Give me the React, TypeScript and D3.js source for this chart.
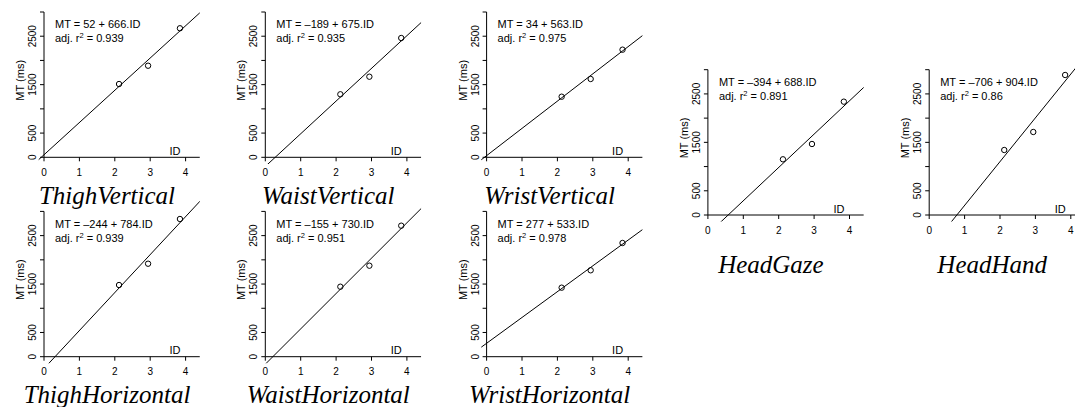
import React from "react";
import * as d3 from "d3";

// ID values of the three target conditions (same for every panel)
const ids = [2.12, 2.94, 3.84];

// movement time (ms) per condition
const thighVertical = [1513, 1891, 2664];
const waistVertical = [1301, 1664, 2463];
const wristVertical = [1251, 1617, 2222];
const thighHorizontal = [1480, 1920, 2843];
const waistHorizontal = [1445, 1879, 2705];
const wristHorizontal = [1425, 1784, 2348];
const headGaze = [1150, 1466, 2340];
const headHand = [1342, 1714, 2891];

const panelNames = [
  "ThighVertical", "WaistVertical", "WristVertical",
  "ThighHorizontal", "WaistHorizontal", "WristHorizontal",
  "HeadGaze", "HeadHand",
];
const panelValues = [
  thighVertical, waistVertical, wristVertical,
  thighHorizontal, waistHorizontal, wristHorizontal,
  headGaze, headHand,
];
const intercepts = [52, -189, 34, -244, -155, 277, -394, -706];
const slopes = [666, 675, 563, 784, 730, 533, 688, 904];
const r2Labels = ["0.939", "0.935", "0.975", "0.939", "0.951", "0.978", "0.891", "0.86"];

const xTicks = [0, 1, 2, 3, 4];
const yTicks = [0, 500, 1000, 1500, 2000, 2500, 3000];
const yTickLabels = [0, 500, 1500, 2500];

// layout: [column, row y of the zero line, title offset below axis]
const layout: [number, number, number][] = [
  [0, 157.3, 46.5], [1, 157.3, 46.5], [2, 157.3, 46.5],
  [0, 356.7, 46.5], [1, 356.7, 46.5], [2, 356.7, 46.5],
  [3, 215, 58], [4, 215, 58],
];

const sans = "'Liberation Sans', Arial, Helvetica, sans-serif";
const serif = "'Liberation Serif', 'Times New Roman', serif";

const Panel = ({ i }: { i: number }) => {
  const [col, y0, titleOff] = layout[i];
  const ax = 44 + col * 221.3;
  const pxPerId = 35.4;
  const x = d3.scaleLinear().domain([0, 4.4]).range([ax, ax + 4.4 * pxPerId]);
  const y = d3.scaleLinear().domain([0, 3000]).range([y0, y0 - 145.3]);
  const a = intercepts[i];
  const b = slopes[i];
  const fit = d3.line<number>().x(d => x(d)).y(d => y(a + b * d));
  const clipId = `clip-${i}`;
  const minus = (v: number) => (v < 0 ? `\u2013${Math.abs(v)}` : `${v}`);

  return (
    <g>
      <defs>
        <clipPath id={clipId}>
          <rect x={x(-0.15)} y={y(3500)} width={x(4.4) - x(-0.15)} height={y(-136) - y(3500)} />
        </clipPath>
      </defs>

      {/* regression line */}
      <path d={fit([-0.5, 4.6]) || ""} fill="none" stroke="black" strokeWidth={1} clipPath={`url(#${clipId})`} />

      {/* points */}
      {panelValues[i].map((v, k) => (
        <circle key={k} cx={x(ids[k])} cy={y(v)} r={2.7} fill="none" stroke="black" strokeWidth={1} />
      ))}

      {/* y axis */}
      <line x1={ax} x2={ax} y1={y(0)} y2={y(3000)} stroke="black" />
      {yTicks.map(t => (
        <line key={t} x1={ax - 4} x2={ax} y1={y(t)} y2={y(t)} stroke="black" />
      ))}
      {yTickLabels.map(t => (
        <text key={t} transform={`translate(${ax - 8},${y(t)}) rotate(-90)`} textAnchor="middle"
          style={{ fontSize: "10px", fontFamily: sans }}>{t}</text>
      ))}
      <text transform={`translate(${ax - 20},${y0 - 77}) rotate(-90)`} textAnchor="middle"
        style={{ fontSize: "11px", fontFamily: sans }}>MT (ms)</text>

      {/* x axis */}
      <line x1={x(0)} x2={x(4.4)} y1={y0} y2={y0} stroke="black" />
      {xTicks.map(t => (
        <g key={t}>
          <line x1={x(t)} x2={x(t)} y1={y0} y2={y0 + 4} stroke="black" />
          <text x={x(t)} y={y0 + 18.5} textAnchor="middle" style={{ fontSize: "10px", fontFamily: sans }}>{t}</text>
        </g>
      ))}
      <text x={x(3.7)} y={y0 - 2.5} textAnchor="middle" style={{ fontSize: "11px", fontFamily: sans }}>ID</text>

      {/* fit annotation */}
      <text x={ax + 11} y={y0 - 129} style={{ fontSize: "11px", fontFamily: sans }}>
        {`MT = ${minus(a)} + ${b}.ID`}
      </text>
      <text x={ax + 11} y={y0 - 115} style={{ fontSize: "11px", fontFamily: sans }}>
        adj. r<tspan dy={-4} style={{ fontSize: "7.5px" }}>2</tspan>
        <tspan dy={4}>{` = ${r2Labels[i]}`}</tspan>
      </text>

      {/* panel title */}
      <text x={ax + 63} y={y0 + titleOff} textAnchor="middle"
        style={{ fontSize: "25px", fontFamily: serif, fontStyle: "italic" }}>{panelNames[i]}</text>
    </g>
  );
};

export default function App() {
  return (
    <svg width={1075} height={407} viewBox="0 0 1075 407"
      style={{ position: "absolute", left: 0, top: 0, background: "white" }}>
      {panelNames.map((_, i) => <Panel key={i} i={i} />)}
    </svg>
  );
}
